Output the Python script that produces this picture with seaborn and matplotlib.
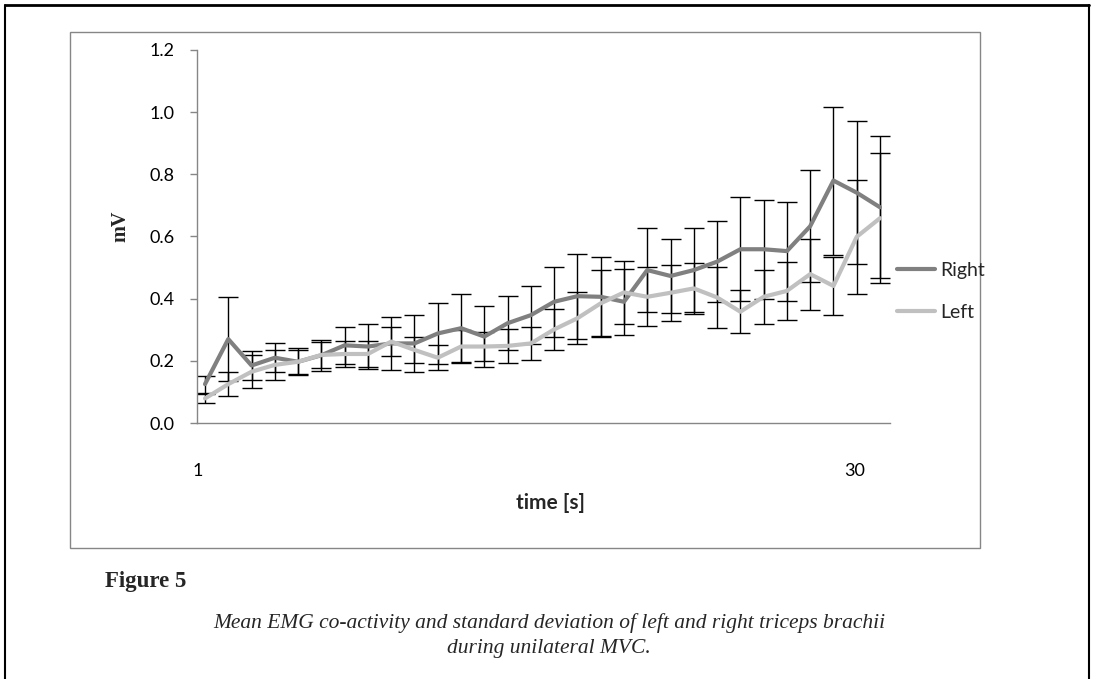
import numpy as np
import pandas as pd
import matplotlib
matplotlib.use("Agg")
import matplotlib.pyplot as plt
from matplotlib.lines import Line2D
from matplotlib.patches import Rectangle
import seaborn as sns

# ---- data ----
time_s = list(range(1, 31))
right_mean = [0.125, 0.27, 0.185, 0.21, 0.197, 0.218, 0.25, 0.246, 0.256, 0.256,
              0.288, 0.305, 0.278, 0.321, 0.347, 0.390, 0.408, 0.406, 0.390, 0.492,
              0.473, 0.492, 0.519, 0.559, 0.559, 0.553, 0.633, 0.780, 0.741, 0.694]
right_sd = [0.027, 0.134, 0.048, 0.047, 0.043, 0.050, 0.059, 0.072, 0.085, 0.091,
            0.097, 0.109, 0.099, 0.086, 0.094, 0.113, 0.137, 0.127, 0.106, 0.136,
            0.120, 0.136, 0.130, 0.167, 0.159, 0.159, 0.180, 0.238, 0.230, 0.228]
left_mean = [0.079, 0.125, 0.165, 0.187, 0.197, 0.219, 0.222, 0.222, 0.262, 0.235,
             0.210, 0.246, 0.246, 0.248, 0.256, 0.301, 0.337, 0.385, 0.420, 0.406,
             0.419, 0.433, 0.404, 0.358, 0.406, 0.425, 0.479, 0.441, 0.599, 0.659]
left_sd = [0.015, 0.038, 0.053, 0.048, 0.038, 0.043, 0.042, 0.042, 0.048, 0.041,
           0.040, 0.054, 0.048, 0.054, 0.054, 0.067, 0.084, 0.107, 0.101, 0.095,
           0.090, 0.083, 0.097, 0.070, 0.086, 0.094, 0.114, 0.092, 0.184, 0.209]
series_names = ["Right", "Left"]
series_colors = ["#808080", "#c0c0c0"]
y_ticks = [0.0, 0.2, 0.4, 0.6, 0.8, 1.0, 1.2]
x_tick_labels = ["1", "30"]

df = pd.DataFrame({
    "time": time_s * 2,
    "mV": right_mean + left_mean,
    "side": ["Right"] * 30 + ["Left"] * 30,
})

sns.set_theme(style="white")
plt.rcParams["font.family"] = ["Lato", "DejaVu Sans"]

W, H = 1094, 679
fig = plt.figure(figsize=(W / 100, H / 100), dpi=100)
fig.patch.set_facecolor("white")

def fx(px):
    return px / W

def fy(py):
    return 1 - py / H

ax = fig.add_axes([fx(197), fy(423), fx(890) - fx(197), fy(50) - fy(423)])

# error bars (drawn beneath lines)
ax.errorbar(time_s, right_mean, yerr=right_sd, fmt="none", ecolor="black",
            elinewidth=1, capsize=7, capthick=1, zorder=2)
ax.errorbar(time_s, left_mean, yerr=left_sd, fmt="none", ecolor="black",
            elinewidth=1, capsize=7, capthick=1, zorder=2)

sns.lineplot(data=df, x="time", y="mV", hue="side", hue_order=series_names,
             palette=dict(zip(series_names, series_colors)), linewidth=3,
             ax=ax, legend=False, zorder=3)

ax.set_ylim(0, 1.2)
spacing = (30 - 1) / (880 - 205)
ax.set_xlim(1 - 8 * spacing, 30 + 10 * spacing)
ax.set_yticks(y_ticks)
ax.set_yticklabels([f"{v:.1f}" for v in y_ticks], fontsize=13, color="black")
ax.set_xticks([1 - 7 * spacing, 30 - 25 * spacing])
ax.set_xticklabels(x_tick_labels, fontsize=13, color="black")
ax.tick_params(axis="x", length=0, pad=29)
ax.tick_params(axis="y", length=5, width=1, color="#868686", direction="out", pad=11, left=True)
for s in ["top", "right"]:
    ax.spines[s].set_visible(False)
for s in ["left", "bottom"]:
    ax.spines[s].set_color("#868686")
    ax.spines[s].set_linewidth(1)
ax.set_xlabel("")
ax.set_ylabel("")
ax.grid(False)

fig.text(fx(120), fy(226), "mV", rotation=90, ha="center", va="center",
         fontsize=14.5, fontweight="bold", family=["Liberation Serif", "DejaVu Serif"])
fig.text(fx(551), fy(503), "time [s]", ha="center", va="center",
         fontsize=15, fontweight="bold")

handles = [Line2D([0], [0], color=c, lw=3) for c in series_colors]
fig.legend(handles, series_names, loc="center left",
           bbox_to_anchor=(fx(897), fy(291.5)), frameon=False, fontsize=14,
           handlelength=1.95, handletextpad=0.3, labelspacing=1.3,
           borderpad=0, borderaxespad=0)

# chart frame and page border
fig.add_artist(Rectangle((fx(70), fy(548)), fx(980) - fx(70), fy(32) - fy(548),
                         transform=fig.transFigure, fill=False,
                         edgecolor="#868686", lw=1))
fig.add_artist(Line2D([fx(5), fx(1089)], [fy(5), fy(5)], color="black", lw=2,
                      transform=fig.transFigure))
fig.add_artist(Line2D([fx(5), fx(5)], [fy(5), 0], color="black", lw=1.5,
                      transform=fig.transFigure))
fig.add_artist(Line2D([fx(1089), fx(1089)], [fy(5), 0], color="black", lw=1.5,
                      transform=fig.transFigure))

serif = ["Liberation Serif", "DejaVu Serif"]
fig.text(fx(105), fy(582), "Figure 5", ha="left", va="center", fontsize=16.5,
         fontweight="bold", family=serif)
fig.text(fx(549), fy(623), "Mean EMG co-activity and standard deviation of left and right triceps brachii",
         ha="center", va="center", fontsize=15.5, style="italic", family=serif)
fig.text(fx(549), fy(648), "during unilateral MVC.", ha="center", va="center",
         fontsize=15.5, style="italic", family=serif)

fig.savefig("out.png", dpi=100, facecolor="white")
